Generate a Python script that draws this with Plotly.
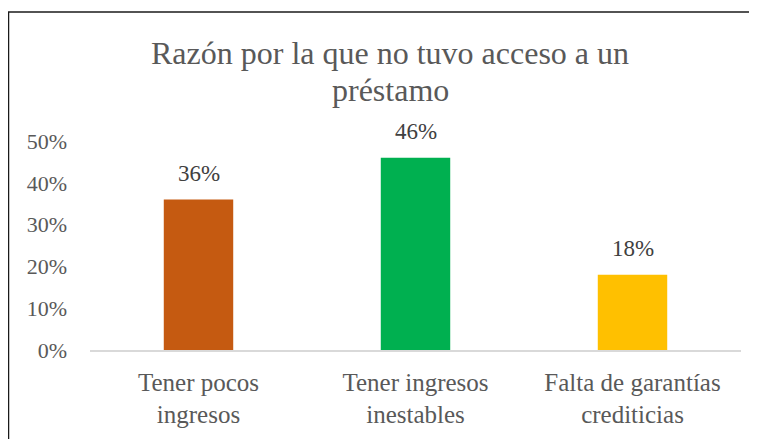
import plotly.graph_objects as go

categories = ["Tener pocos<br>ingresos", "Tener ingresos<br>inestables", "Falta de garantías<br>crediticias"]
values = [0.36, 0.46, 0.18]
bar_colors = ["#C55A11", "#00B050", "#FFC000"]
y_ticks = [0, 0.1, 0.2, 0.3, 0.4, 0.5]
y_tick_labels = ["0%", "10%", "20%", "30%", "40%", "50%"]
title_lines = ["Razón por la que no tuvo acceso a un", "préstamo"]

W, H = 757, 439
OFF = 8  # page body margin shifts the figure by this much
# plot area in screenshot pixels: x 90..741, y 141..350
L, R, T, B = 90 - OFF, W - (741 - OFF), 141 - OFF, H - (350 - OFF)
SERIF = "Liberation Serif, Times New Roman, serif"


def px_x(px):
    # screenshot x pixel -> paper fraction
    return (px - OFF - L) / (W - L - R)


def px_y(py):
    return (H - B - (py - OFF)) / (H - T - B)


fig = go.Figure()
fig.add_trace(
    go.Bar(
        x=categories,
        y=values,
        marker_color=bar_colors,
        marker_line_width=0,
        showlegend=False,
    )
)

# data labels above the bars
for c, v in zip(categories, values):
    fig.add_annotation(
        x=c, y=v, text=f"{v:.0%}",
        showarrow=False, yanchor="bottom", yshift=12,
        font=dict(family=SERIF, size=23, color="#404040"),
    )

# two-line title, spaced like the original
for line, yc in zip(title_lines, [53, 90]):
    fig.add_annotation(
        xref="paper", yref="paper", x=px_x(390), y=px_y(yc),
        text=line, showarrow=False, xanchor="center", yanchor="middle",
        font=dict(family=SERIF, size=32, color="#595959"),
    )

# chart border (left + top, cropped image)
fig.add_shape(
    type="line", xref="paper", yref="paper",
    x0=px_x(8.5), x1=px_x(8.5), y0=px_y(12), y1=px_y(H + 20),
    line=dict(color="#1a1a1a", width=1.5),
)
fig.add_shape(
    type="line", xref="paper", yref="paper",
    x0=px_x(8), x1=px_x(W + 20), y0=px_y(12), y1=px_y(12),
    line=dict(color="#1a1a1a", width=1.5),
)

fig.update_layout(
    width=W,
    height=H,
    margin=dict(l=L, r=R, t=T, b=B),
    paper_bgcolor="white",
    plot_bgcolor="white",
    bargap=0.68,
)
fig.update_xaxes(
    showline=True, linecolor="#D9D9D9", linewidth=1.5,
    ticks="", showgrid=False, ticklabelstandoff=9,
    tickfont=dict(family=SERIF, size=25, color="#595959"),
)
fig.update_yaxes(
    range=[0, 0.5],
    tickvals=y_ticks, ticktext=y_tick_labels,
    showgrid=False, zeroline=False, showline=False,
    ticks="", ticklabelstandoff=22,
    tickfont=dict(family=SERIF, size=22, color="#595959"),
)

fig.write_html("out.html")
